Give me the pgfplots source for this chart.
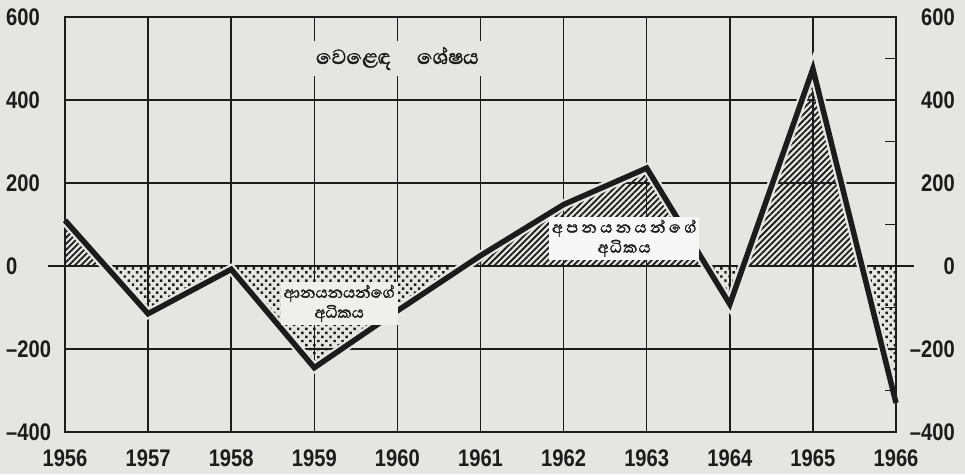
\documentclass[border=0pt]{standalone}
\usepackage{pgfplots}
\pgfplotsset{compat=1.18}
\usepackage{pgfplotstable}
\usepgfplotslibrary{fillbetween}
\usetikzlibrary{patterns.meta}
\usepackage{fontspec}
\setmainfont{Liberation Sans}[FakeStretch=0.84]
\newfontfamily\sinhala[Script=Sinhala, FakeBold=1.6]{Abhaya Libre}
\definecolor{paper}{RGB}{229,229,227}
\definecolor{ink}{RGB}{28,28,28}
\pagecolor{paper}

\pgfplotstableread{
year val
1956 110
1957 -115
1958 -8
1959 -245
1960 -108
1961 25
1962 148
1963 236
1964 -92
1965 475
1966 -330
}\balancetab

\tikzset{
  hatchfill/.style={pattern={Lines[angle=45,distance=4.3pt,line width=1.8pt]}, pattern color=ink},
  dotfill/.style={pattern={Dots[angle=45,distance=5.7pt,radius=1.75pt]}, pattern color=ink},
}

\begin{document}
\begin{tikzpicture}
\path (-65pt,-42pt) rectangle (900pt,432pt);
\begin{axis}[
  at={(0pt,0pt)}, anchor=south west,
  width=831pt, height=415pt, scale only axis,
  xmin=1956, xmax=1966, ymin=-400, ymax=600,
  xtick={1956,1957,1958,1959,1960,1961,1962,1963,1964,1965,1966},
  xticklabels={1956,1957,1958,1959,1960,1961,1962,1963,1964,1965,1966},
  ytick={-400,-200,0,200,400,600},
  yticklabels={{--400},{--200},0,200,400,600},
  grid=major,
  major grid style={line width=1.5pt, ink},
  axis line style={line width=1.6pt, ink},
  major tick length=0pt,
  /pgf/number format/assume math mode=true,
  tick label style={font=\fontsize{24}{28}\selectfont\bfseries, text=ink, inner sep=0pt},
  yticklabel style={anchor=west, xshift=-59pt},
  xticklabel style={yshift=-18pt},
  clip=false,
]
\addplot[name path=bal, draw=none] table[x=year,y=val]{\balancetab};
\addplot[name path=zero, draw=none] coordinates {(1956,0) (1966,0)};
\addplot fill between[of=bal and zero, split,
  every even segment/.style={hatchfill},
  every odd segment/.style={dotfill}];
\draw[ink, line width=2.6pt] (axis cs:1955.8,0) -- (axis cs:1966.22,0);
\addplot[paper, line width=10pt, line join=miter] table[x=year,y=val]{\balancetab};
\addplot[ink, line width=5.5pt, line join=miter] table[x=year,y=val]{\balancetab};
\node[fill=paper, inner xsep=8pt, inner ysep=6pt, text=ink,
  font=\sinhala\fontsize{26}{30}\selectfont] at (axis cs:1960,500) {වෙළෙඳ\quad ශේෂය};
\node[fill=paper!60!white, align=center, inner sep=3pt, text=ink,
  font=\sinhala\fontsize{20}{20}\selectfont] at (axis cs:1959.3,-90) {ආනයනයන්ගේ\\අධිකය};
\node[fill=paper!30!white, align=center, inner sep=3pt, text=ink,
  font=\sinhala\fontsize{20}{20}\selectfont] at (axis cs:1962.73,67) {{\addfontfeatures{LetterSpace=17}අපනයනයන්ගේ}\\{\addfontfeatures{LetterSpace=6}අධිකය}};
\end{axis}
\begin{axis}[
  at={(0pt,0pt)}, anchor=south west,
  width=831pt, height=415pt, scale only axis,
  xmin=1956, xmax=1966, ymin=-400, ymax=600,
  hide x axis,
  axis y line*=right,
  axis line style={line width=1.6pt, ink},
  ytick={-400,-200,0,200,400,600},
  yticklabels={{--400},{--200},0,200,400,600},
  minor ytick={-300,-100,100,300,500},
  major tick length=0pt,
  minor tick length=11pt,
  tick align=inside,
  minor tick style={line width=1.5pt, ink},
  tick label style={font=\fontsize{24}{28}\selectfont\bfseries, text=ink, inner sep=0pt},
  yticklabel style={anchor=east, xshift=59pt},
]
\addplot[draw=none] coordinates {(1956,0) (1966,0)};
\end{axis}
\end{tikzpicture}
\end{document}
